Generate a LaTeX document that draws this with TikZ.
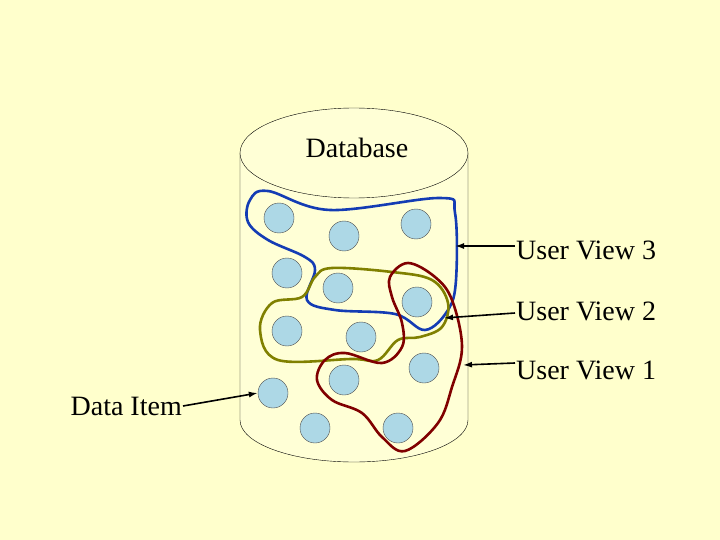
\documentclass[tikz,border=0pt]{standalone}
\usepackage{fontspec}
\setmainfont{Liberation Serif}
\usetikzlibrary{arrows.meta}
\definecolor{bg}{RGB}{255,255,204}
\definecolor{cyl}{RGB}{255,255,214}
\definecolor{itemc}{RGB}{173,216,230}
\definecolor{vblue}{RGB}{20,60,180}
\definecolor{volive}{RGB}{128,128,0}
\definecolor{vred}{RGB}{128,0,0}
\begin{document}
\begin{tikzpicture}[x=1pt,y=-1pt,
  item/.style={circle,draw=black!70,fill=itemc,minimum size=30pt,inner sep=0pt},
  lab/.style={font=\fontsize{28}{32}\selectfont,inner sep=1pt},
  ptr/.style={-{Latex[length=9pt,width=6pt]},line width=1.6pt},
  loop/.style={line width=2.6pt,tension=0.6}]
\fill[bg] (0,0) rectangle (720,540);
\useasboundingbox (0,0) rectangle (720,540);
% cylinder
\fill[cyl] (240,153) -- (240,420) arc[start angle=180,end angle=360,x radius=114,y radius=-42] -- (468,153) -- cycle;
\draw (240,153) -- (240,420) arc[start angle=180,end angle=360,x radius=114,y radius=-42] -- (468,153);
\draw[fill=cyl] (354,153) ellipse[x radius=114,y radius=45];
\node[lab] (db) at (357,148) {Database};
% items
\foreach \n/\x/\y in {a/279/218,b/344/236,c/416/224,d/287/273,e/338/288,f/417/302,g/287/331,h/361/337,i/424/368,j/344/380,k/273/393,l/315/428,m/398/428}
  \node[item] (\n) at (\x,\y) {};
% views
\draw[loop,draw=vblue] plot[smooth cycle] coordinates {(250,200)(268,191)(330,210)(440,198)(455,213)(456,280)(448,310)(425,330)(395,314)(335,310)(307,300)(315,270)(305,257)(268,240)(248,222)};
\draw[loop,draw=volive] plot[smooth cycle] coordinates {(332,268)(392,272)(432,280)(448,303)(442,327)(420,337)(398,340)(378,360)(352,359)(278,360)(260,330)(272,303)(302,297)(315,277)};
\draw[loop,draw=vred] plot[smooth cycle] coordinates {(408,263)(435,277)(452,300)(462,347)(452,387)(438,423)(405,451)(382,437)(362,413)(332,400)(317,380)(325,360)(345,353)(382,363)(402,347)(402,323)(392,297)(390,277)};
% labels
\node[lab,anchor=west] (v3) at (515,250) {User View 3};
\node[lab,anchor=west] (v2) at (515,311) {User View 2};
\node[lab,anchor=west] (v1) at (515,370) {User View 1};
\node[lab,anchor=east] (di) at (183,406) {Data Item};
\coordinate (p3) at (455,246);
\coordinate (p2) at (444,318);
\coordinate (p1) at (463,365);
\draw[ptr] (v3.west |- 0,246) -- (p3);
\draw[ptr] (v2.west |- 0,313) -- (p2);
\draw[ptr] (v1.west |- 0,363) -- (p1);
\draw[ptr] (di.east) -- (k.west);
\end{tikzpicture}
\end{document}
